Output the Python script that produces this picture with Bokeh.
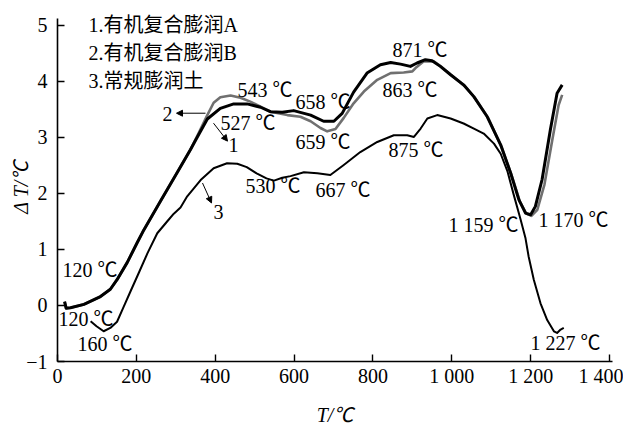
import math
from bokeh.plotting import figure
from bokeh.models import Label, Arrow, NormalHead, Range1d, FixedTicker
from bokeh.embed import file_html
from bokeh.resources import INLINE

# ---------------- data ----------------
# 1. 有机复合膨润A (thick black)
c1_T = [18, 22, 33, 67, 109, 134, 151, 177, 202, 219, 261, 304, 337, 354, 380, 413, 447, 481,
        515, 540, 570, 599, 642, 675, 701, 722, 751, 785, 819, 845, 870, 895, 912, 933, 950,
        971, 997, 1030, 1056, 1090, 1124, 1149, 1170, 1187, 1200, 1212, 1229, 1250, 1267, 1280]
c1_dT = [0.07, -0.05, -0.04, 0.02, 0.16, 0.29, 0.46, 0.77, 1.12, 1.35, 1.86, 2.38, 2.78, 3.00,
         3.33, 3.52, 3.60, 3.60, 3.54, 3.46, 3.45, 3.48, 3.40, 3.29, 3.29, 3.43, 3.81, 4.15,
         4.30, 4.34, 4.31, 4.27, 4.33, 4.39, 4.37, 4.27, 4.12, 3.94, 3.73, 3.37, 2.87, 2.37,
         1.89, 1.65, 1.62, 1.77, 2.25, 3.14, 3.79, 3.94]

# 2. 有机复合膨润B (grey)
c2_T = [18, 22, 33, 67, 109, 134, 151, 177, 202, 219, 261, 304, 337, 354, 380, 396, 413, 439,
        464, 489, 515, 540, 583, 616, 642, 667, 684, 705, 726, 751, 777, 811, 845, 878, 900,
        908, 929, 954, 974, 999, 1032, 1058, 1092, 1126, 1151, 1173, 1189, 1202, 1217, 1235,
        1255, 1271, 1280]
c2_dT = [0.07, -0.05, -0.04, 0.02, 0.16, 0.29, 0.46, 0.77, 1.12, 1.35, 1.86, 2.38, 2.78, 3.02,
         3.40, 3.62, 3.72, 3.75, 3.71, 3.64, 3.55, 3.46, 3.40, 3.37, 3.29, 3.17, 3.11, 3.15,
         3.35, 3.61, 3.82, 4.03, 4.15, 4.16, 4.18, 4.24, 4.36, 4.36, 4.26, 4.11, 3.92, 3.71,
         3.35, 2.83, 2.34, 1.85, 1.64, 1.60, 1.71, 2.16, 2.96, 3.58, 3.76]

# 3. 常规膨润土 (thin black)
c3_T = [84, 99, 117, 134, 151, 168, 185, 206, 228, 253, 278, 295, 312, 329, 363, 396, 430, 456,
        480, 505, 530, 549, 570, 591, 625, 659, 692, 726, 768, 811, 853, 887, 904, 921, 938,
        963, 997, 1030, 1056, 1081, 1107, 1124, 1141, 1157, 1174, 1187, 1195, 1208, 1225,
        1242, 1259, 1267, 1276, 1284]
c3_dT = [-0.28, -0.37, -0.46, -0.40, -0.29, -0.02, 0.25, 0.58, 0.93, 1.29, 1.50, 1.64, 1.75,
         1.95, 2.24, 2.45, 2.54, 2.53, 2.47, 2.36, 2.27, 2.23, 2.28, 2.31, 2.38, 2.36, 2.33,
         2.51, 2.74, 2.92, 3.04, 3.04, 3.01, 3.16, 3.34, 3.40, 3.34, 3.25, 3.16, 3.07, 2.89,
         2.71, 2.40, 1.98, 1.55, 1.20, 0.87, 0.46, 0.04, -0.26, -0.46, -0.49, -0.43, -0.40]

x_ticks = [0, 200, 400, 600, 800, 1000, 1200, 1400]
x_tick_text = ["0", "200", "400", "600", "800", "1 000", "1 200", "1 400"]
y_ticks = [-1, 0, 1, 2, 3, 4, 5]
y_tick_text = ["\u22121", "0", "1", "2", "3", "4", "5"]

legend_lines = ["1.有机复合膨润A", "2.有机复合膨润B", "3.常规膨润土"]
curve_ids = ["1", "2", "3"]
peak_texts = ["543 ℃", "658 ℃", "527 ℃", "659 ℃", "871 ℃", "863 ℃", "875 ℃", "530 ℃",
              "667 ℃", "1 159 ℃", "1 170 ℃", "1 227 ℃", "120 ℃", "120 ℃", "160 ℃"]
x_title = "T/℃"
y_title = "Δ T/℃"

# ---------------- figure ----------------
FONT = "'Liberation Serif', 'Noto Sans CJK SC'"
FS = "20px"

X_END = 1407.6
Y_TOP = 5.232

p = figure(width=623, height=428, x_range=Range1d(0, X_END), y_range=Range1d(-1, Y_TOP),
           output_backend="svg", toolbar_location=None,
           min_border_left=57, min_border_right=11, min_border_top=12, min_border_bottom=66)
p.outline_line_color = None
p.grid.visible = False
p.background_fill_color = "white"
p.border_fill_color = "white"

for ax in (p.xaxis[0], p.yaxis[0]):
    ax.axis_line_color = "black"
    ax.axis_line_width = 1.6
    ax.major_tick_line_color = "black"
    ax.major_tick_line_width = 1.4
    ax.major_tick_in = 7
    ax.major_tick_out = 0
    ax.minor_tick_line_color = None
    ax.major_label_text_font = FONT
    ax.major_label_text_font_size = FS
    ax.major_label_text_color = "black"
    ax.major_label_text_line_height = 1.0
    ax.axis_label_text_font = FONT
    ax.axis_label_text_font_size = FS
    ax.axis_label_text_font_style = "italic"
    ax.axis_label_text_color = "black"
    ax.axis_label_text_line_height = 1.0

p.yaxis.bounds = (-1, 5.13)
p.xaxis.ticker = FixedTicker(ticks=x_ticks)
p.yaxis.ticker = FixedTicker(ticks=y_ticks)
p.xaxis.major_label_overrides = {t: s for t, s in zip(x_ticks, x_tick_text)}
p.yaxis.major_label_overrides = {t: s for t, s in zip(y_ticks, y_tick_text)}
p.xaxis.major_label_standoff = 3
p.yaxis.major_label_standoff = 10
p.xaxis.axis_label = x_title
p.yaxis.axis_label = y_title
p.xaxis.axis_label_standoff = 14
p.yaxis.axis_label_standoff = -9

p.line(c2_T, c2_dT, line_color="#707070", line_width=2.6, line_join="round")
p.line(c1_T, c1_dT, line_color="black", line_width=3.0, line_join="round")
p.line(c3_T, c3_dT, line_color="black", line_width=2.0, line_join="round")

# screen-pixel helpers for annotation placement (frame: x 57..612, y 12..362)
def X(px):
    return (px - 57) * X_END / 555

def Y(py):
    return (362 - py) * (Y_TOP + 1) / 350 - 1

def add_text(txt, px, py, style="normal"):
    p.add_layout(Label(x=X(px), y=Y(py), text=txt, text_font=FONT, text_font_size=FS,
                       text_font_style=style, text_align="left", text_baseline="middle",
                       text_color="black"))

# legend text
for txt, py in zip(legend_lines, [25, 53, 81]):
    add_text(txt, 88, py)

# temperature annotations
ann_pos = [(237, 90), (295, 102), (220, 123), (295, 142), (392, 50), (382, 90), (388, 150),
           (245, 186), (315, 190), (448, 225), (538, 220), (530, 343), (62, 270), (58, 319),
           (77, 344)]
for txt, (px, py) in zip(peak_texts, ann_pos):
    add_text(txt, px, py)

# curve id markers with arrows
id_pos = [(228, 145), (162, 114), (213, 212)]
arrow_seg = [((213, 123), (227, 141)), ((205, 113), (176, 113)), ((202, 183), (211, 203))]
for cid, (px, py), ((x0, y0), (x1, y1)) in zip(curve_ids, id_pos, arrow_seg):
    add_text(cid, px, py)
    p.add_layout(Arrow(end=NormalHead(size=6, fill_color="black", line_color="black"),
                       x_start=X(x0), y_start=Y(y0), x_end=X(x1), y_end=Y(y1),
                       line_color="black", line_width=1))

open("out.html", "w").write(file_html(p, INLINE))
